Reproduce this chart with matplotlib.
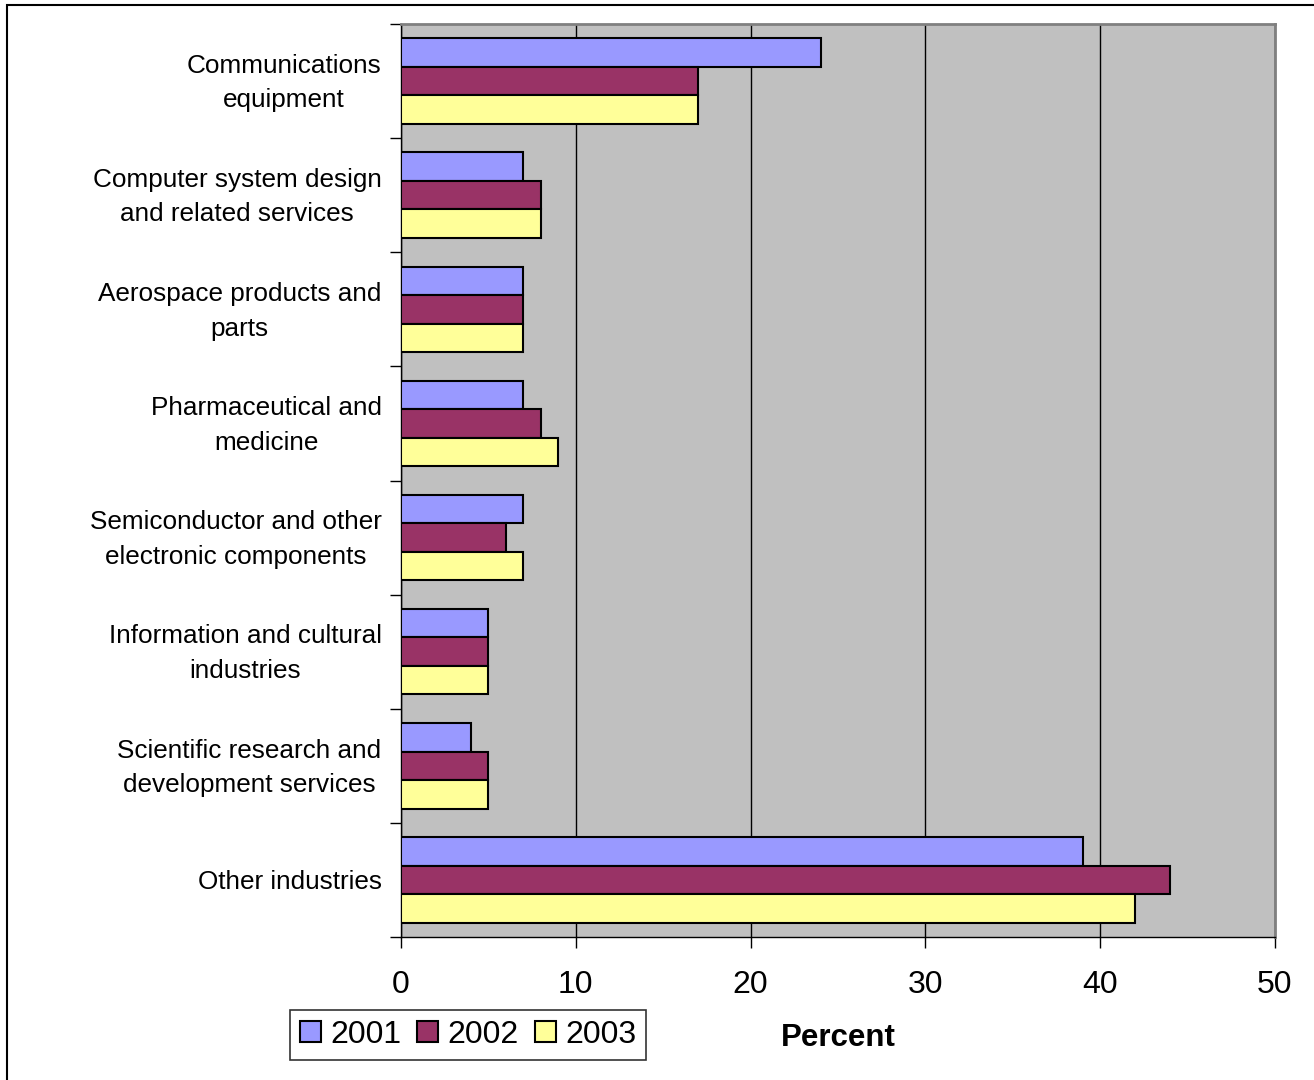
import numpy as np
import matplotlib
matplotlib.use("Agg")
import matplotlib.pyplot as plt
import matplotlib.transforms as mtransforms
from matplotlib.patches import Rectangle

plt.rcParams['font.family'] = ['Liberation Sans', 'DejaVu Sans']

# Data
categories = [
    "Communications\nequipment",
    "Computer system design\nand related services",
    "Aerospace products and\nparts",
    "Pharmaceutical and\nmedicine",
    "Semiconductor and other\nelectronic components",
    "Information and cultural\nindustries",
    "Scientific research and\ndevelopment services",
    "Other industries",
]
years = ["2001", "2002", "2003"]
v2001 = [24, 7, 7, 7, 7, 5, 4, 39]
v2002 = [17, 8, 7, 8, 6, 5, 5, 44]
v2003 = [17, 8, 7, 9, 7, 5, 5, 42]
colors = ["#9999FF", "#993366", "#FFFF99"]
xticks = [0, 10, 20, 30, 40, 50]

fig = plt.figure(figsize=(13.14, 10.8), dpi=100)
ax = fig.add_axes([401/1314, 1-937/1080, 874/1314, 913/1080])
ax.set_facecolor("#C0C0C0")

y = np.arange(len(categories))
h = 0.25
for i, (vals, c, lab) in enumerate(zip([v2001, v2002, v2003], colors, years)):
    ax.barh(y + (i - 1) * h, vals, height=h, color=c, edgecolor="black",
            linewidth=1.5, label=lab, zorder=3)

ax.set_xlim(0, 50)
ax.set_ylim(len(categories) - 0.5, -0.5)
ax.set_xticks(xticks)
ax.set_xticklabels([str(t) for t in xticks], fontsize=23)
ax.tick_params(axis="x", direction="out", length=8, width=1, pad=16)
ax.xaxis.grid(True, color="black", linewidth=1, zorder=1)
ax.set_axisbelow(True)

# y ticks at category boundaries, labels at centers
ax.set_yticks(np.arange(len(categories) + 1) - 0.5)
ax.set_yticklabels([])
ax.tick_params(axis="y", which="major", direction="out", length=8, width=1)
ax.set_yticks(y, minor=True)
ax.set_yticklabels(categories, minor=True, fontsize=18.8, ha="right",
                   va="center", multialignment="center", linespacing=1.55)
ax.tick_params(axis="y", which="minor", length=0, pad=14)
shift = mtransforms.ScaledTranslation(0, -2/100, fig.dpi_scale_trans)
for lbl in ax.get_yticklabels(minor=True):
    lbl.set_transform(lbl.get_transform() + shift)

for s in ["top", "right"]:
    ax.spines[s].set_color("#808080")
    ax.spines[s].set_linewidth(2)
for s in ["left", "bottom"]:
    ax.spines[s].set_color("black")
    ax.spines[s].set_linewidth(1)

fig.text(838/1314, 1-1038/1080, "Percent", fontsize=22.5, fontweight="bold",
         ha="center", va="center")

leg = fig.legend(loc="center", bbox_to_anchor=(468/1314, 1-1035/1080),
                 ncol=3, fontsize=23, frameon=True, fancybox=False,
                 edgecolor="black", handlelength=0.65, handleheight=0.65,
                 handletextpad=0.3, columnspacing=0.5, borderpad=0.3)
leg.get_frame().set_linewidth(1.2)

fig.patches.append(Rectangle((7/1314, -0.1), 1.2, 1 - 5/1080 + 0.1,
                             transform=fig.transFigure, fill=False,
                             edgecolor="black", linewidth=1.5))

fig.savefig("out.png", dpi=100)
